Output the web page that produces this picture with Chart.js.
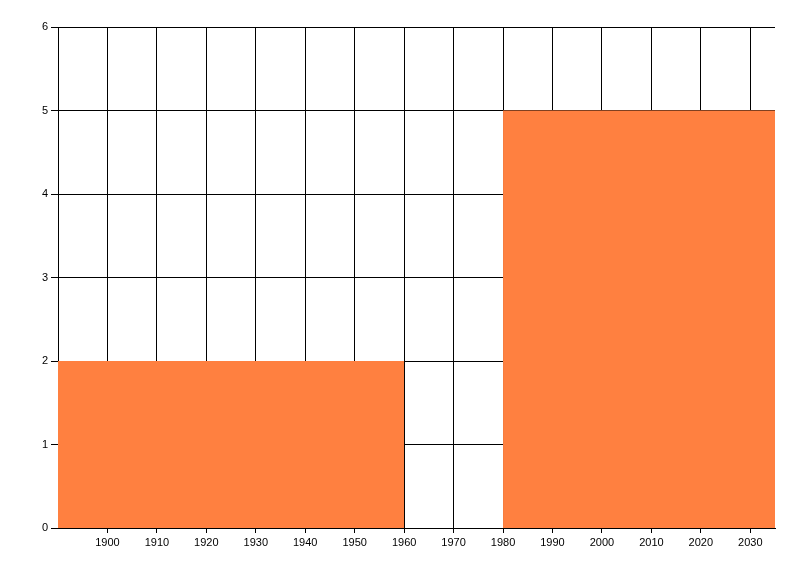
<!DOCTYPE html>
<html>
<head>
<meta charset="utf-8">
<script src="https://cdn.jsdelivr.net/npm/chart.js@4/dist/chart.umd.min.js"></script>
<style>
  body { margin: 0; background: #fff; }
  canvas { display: block; }
</style>
</head>
<body>
<canvas id="myChart" width="800" height="576"></canvas>
<script>
'use strict';

// bar spans (years) and heights
var barStarts = [1890, 1980];
var barEnds = [1960, 2035];
var barValues = [2, 5];

var xTicks = [1900, 1910, 1920, 1930, 1940, 1950, 1960, 1970, 1980, 1990, 2000, 2010, 2020, 2030];
var yTicks = [0, 1, 2, 3, 4, 5, 6];

var barColor = '#FF8040';

var datasets = [];
for (var i = 0; i < barValues.length; i++) {
  datasets.push({
    data: [{x: barStarts[i], y: barValues[i]}, {x: barEnds[i], y: barValues[i]}],
    fill: 'origin',
    backgroundColor: barColor,
    borderWidth: 0,
    pointRadius: 0,
    tension: 0
  });
}

var tickFont = {family: 'Liberation Sans', size: 11};

var ctx = document.getElementById('myChart');
var myChart = new Chart(ctx, {
  type: 'line',
  data: {datasets: datasets},
  options: {
    responsive: false,
    animation: false,
    layout: {padding: {top: 27, right: 25, left: 0, bottom: 0}},
    plugins: {legend: {display: false}, tooltip: {enabled: false}},
    scales: {
      x: {
        type: 'linear',
        min: 1890,
        max: 2035,
        afterBuildTicks: function(scale) {
          scale.ticks = xTicks.map(function(v) { return {value: v}; });
        },
        afterFit: function(scale) { scale.height = 48; },
        ticks: {
          color: '#000', font: tickFont, padding: 3, maxRotation: 0, autoSkip: false,
          callback: function(v) { return String(v); }
        },
        grid: {color: '#000', lineWidth: 1, tickLength: 5, tickColor: '#000'},
        border: {display: true, color: '#000', width: 1}
      },
      y: {
        min: 0,
        max: 6,
        afterBuildTicks: function(scale) {
          scale.ticks = yTicks.map(function(v) { return {value: v}; });
        },
        afterFit: function(scale) { scale.width = 58; },
        ticks: {color: '#000', font: tickFont, padding: 3},
        grid: {color: '#000', lineWidth: 1, tickLength: 7, tickColor: '#000'},
        border: {display: true, color: '#000', width: 1}
      }
    }
  }
});
</script>
</body>
</html>
